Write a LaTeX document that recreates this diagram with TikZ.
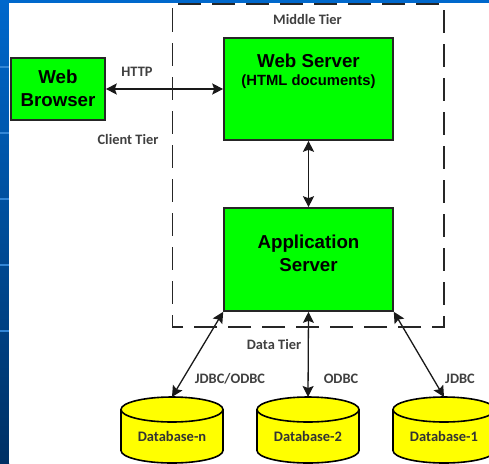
\documentclass[tikz,border=0pt]{standalone}
\usepackage{fontspec}
\setmainfont{Liberation Sans}
\newfontfamily\lblfont{Carlito}
\usetikzlibrary{arrows.meta}
\definecolor{boxgreen}{RGB}{0,255,0}
\definecolor{dbyellow}{RGB}{255,255,0}
\definecolor{lblgray}{RGB}{64,64,64}
\definecolor{stripa}{RGB}{0,104,204}
\definecolor{stripb}{RGB}{0,48,100}
\tikzset{
  x=1pt,y=-1pt,
  tier/.style={draw=black!85,line width=1.3pt,dash pattern=on 23pt off 11pt,dash phase=28.5pt},
  srv/.style={draw=black!85,fill=boxgreen,line width=1.6pt,inner sep=0pt,text=black},
  big/.style={font=\bfseries\fontsize{18.7}{23}\selectfont,inner sep=0pt,text=black},
  small/.style={font=\bfseries\fontsize{14.8}{18}\selectfont,inner sep=0pt,text=black},
  lbl/.style={font=\lblfont\bfseries\fontsize{14.4}{17}\selectfont,text=lblgray,inner sep=0pt},
  dbbody/.style={draw=black,fill=dbyellow,line width=1.6pt},
  dbtext/.style={font=\lblfont\bfseries\fontsize{14.5}{17}\selectfont,text=black!80,inner sep=0pt},
  link/.style={draw=black!90,line width=1.3pt,{Stealth[length=11pt,width=11pt,inset=2pt]}-{Stealth[length=11pt,width=11pt,inset=2pt]}},
}
\newcommand{\dbcyl}[3]{%
  \draw[dbbody] (#1-51,409.5) -- (#1-51,450.5) arc[start angle=180,end angle=360,x radius=51pt,y radius=12.5pt]
     -- (#1+51,409.5) arc[start angle=0,end angle=180,x radius=51pt,y radius=12.5pt] -- cycle;
  \draw[dbbody,fill=none] (#1-51,409.5) arc[start angle=180,end angle=360,x radius=51pt,y radius=12.5pt];
  \coordinate (#2) at (#1,397);
  \node[dbtext] (#2t) at (#1,436) {#3};
}
\begin{document}
\begin{tikzpicture}
\useasboundingbox (0,0) rectangle (489,463);
\begin{scope}
\clip (0,0) rectangle (489,463);
\shade[top color=stripa,bottom color=stripb] (0,0) rectangle (9,463);
\fill[stripa] (0,0) rectangle (489,3);
\foreach \yy in {66,132,198,264,330}{\fill[stripa!80!white] (0,\yy) rectangle (9,\yy+1.5);}
\fill[white] (9,3) rectangle (489,463);
\node[srv,minimum width=94pt,minimum height=62pt] (browser) at (58,89) {};
\node[big] (browsera) at (58,77) {Web};
\node[big] (browserb) at (58,100) {Browser};
\node[srv,minimum width=169pt,minimum height=102pt] (web) at (308.5,89) {};
\node[big] (weba) at (308.5,61) {Web Server};
\node[small] (webb) at (308.5,82) {(HTML documents)};
\node[srv,minimum width=169pt,minimum height=103pt] (app) at (308.5,259.5) {};
\node[big] (appa) at (308.5,244) {Application};
\node[big] (appb) at (308.5,265) {Server};
\dbcyl{172}{dbn}{Database-n}
\dbcyl{308}{dbm}{Database-2}
\dbcyl{444}{dbo}{Database-1}
\draw[link] (browser.east) -- (browser.east -| web.west);
\draw[link] (web.south) -- (app.north);
\draw[link] (app.south west) -- (dbn);
\draw[link] (app.south) -- (dbm);
\draw[link] (app.south east) -- (dbo);
\coordinate (ta) at (172.5,4);
\coordinate (tb) at (444,4);
\coordinate (tc) at (444,327);
\coordinate (td) at (172.5,327);
\draw[tier] (ta) -- (tb) -- (tc) -- (td) -- cycle;
\node[lbl] (http) at (137,72) {HTTP};
\node[lbl] (client) at (128,139) {Client Tier};
\node[lbl] (middle) at (307.5,20) {Middle Tier};
\node[lbl] (data) at (274,344) {Data Tier};
\node[lbl] (jo) at (230,379) {JDBC/ODBC};
\node[lbl] (o) at (341,379) {ODBC};
\node[lbl] (j) at (460,379) {JDBC};
\end{scope}
\end{tikzpicture}
\end{document}
